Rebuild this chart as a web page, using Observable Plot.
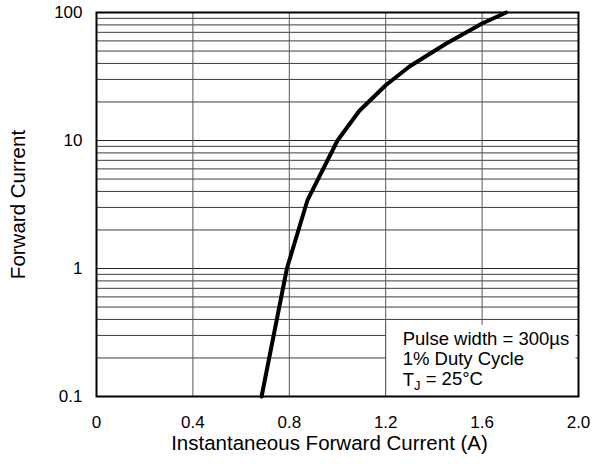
<!DOCTYPE html>
<html><head><meta charset="utf-8">
<script src="https://cdn.jsdelivr.net/npm/d3@7"></script>
<script src="https://cdn.jsdelivr.net/npm/@observablehq/plot@0.6"></script>
<style>
body{margin:0;background:#fff;}
svg{font-family:"Liberation Sans",Arial,Helvetica,sans-serif;}
</style></head>
<body><div id="chart"></div>
<script>
const xTicks = [0, 0.4, 0.8, 1.2, 1.6, 2.0];
const xTickLabels = ["0", "0.4", "0.8", "1.2", "1.6", "2.0"];
const yTicks = [0.1, 1, 10, 100];
const yTickLabels = ["0.1", "1", "10", "100"];
const yMinorGrid = [0.2,0.3,0.4,0.5,0.6,0.7,0.8,0.9,2,3,4,5,6,7,8,9,20,30,40,50,60,70,80,90];
const yMajorGrid = [1, 10];
const curveX = [0.685, 0.79, 0.875, 1.0, 1.09, 1.2, 1.3, 1.45, 1.6, 1.7];
const curveY = [0.1, 1, 3.4, 10, 17, 27, 38, 57, 82, 100];
const legendLines = ["Pulse width = 300µs", "1% Duty Cycle", "TJ = 25°C"];
const xLabel = "Instantaneous Forward Current (A)";
const yLabel = "Forward Current";

const curve = curveX.map((x, i) => ({x, y: curveY[i]}));
const legendDy = [-57, -37, -16];

const plot = Plot.plot({
  width: 592, height: 464,
  marginLeft: 96, marginRight: 14, marginTop: 12, marginBottom: 68,
  style: {fontSize: "17px", fontFamily: "Liberation Sans, Arial, sans-serif", color: "#000", background: "#fff"},
  x: {domain: [0, 2]},
  y: {type: "log", domain: [0.1, 100]},
  marks: [
    Plot.ruleY(yMinorGrid, {stroke: "#3a3a3a", strokeWidth: 1}),
    Plot.ruleY(yMajorGrid, {stroke: "#222", strokeWidth: 1}),
    Plot.ruleX(xTicks.slice(1, -1), {stroke: "#555", strokeWidth: 1}),
    Plot.rect([{}], {x1: 1.203, x2: 1.99, y1: 0.1, y2: 0.36, fill: "#fff"}),
    Plot.ruleX([1.2], {y1: 0.1, y2: 0.36, stroke: "#555", strokeWidth: 1}),
    ...legendLines.map((t, i) => Plot.text([t], {x: 1.2, y: 0.1, text: d => d, dx: 17, dy: legendDy[i],
      textAnchor: "start", lineAnchor: "middle", fontSize: 18.5, fill: "#000", className: "legend-line-" + i})),
    Plot.line(curve, {x: "x", y: "y", stroke: "#000", strokeWidth: 4, strokeLinejoin: "miter"}),
    Plot.frame({stroke: "#000", strokeWidth: 2}),
    Plot.axisX({ticks: xTicks, tickFormat: d => xTickLabels[xTicks.indexOf(d)], tickSize: 0, tickPadding: 19, label: null}),
    Plot.axisY({ticks: yTicks, tickFormat: d => yTickLabels[yTicks.indexOf(d)], tickSize: 0, tickPadding: 14, label: null}),
    Plot.text([xLabel], {frameAnchor: "bottom", dx: -8, dy: 47, textAnchor: "middle", lineAnchor: "middle", fontSize: 20.5, fill: "#000", text: d => d}),
    Plot.text([yLabel], {frameAnchor: "left", dx: -78, rotate: -90, textAnchor: "middle", lineAnchor: "middle", fontSize: 20.5, fill: "#000", text: d => d})
  ]
});
document.getElementById("chart").appendChild(plot);

// Subscript J in the junction temperature line
d3.select(plot).selectAll("g.legend-line-2 text").each(function () {
  const el = d3.select(this);
  el.text(null);
  el.append("tspan").text("T");
  el.append("tspan").attr("dy", "0.25em").attr("font-size", "13px").text("J");
  el.append("tspan").attr("dy", "-0.25em").text(" = 25°C");
});
</script></body></html>
